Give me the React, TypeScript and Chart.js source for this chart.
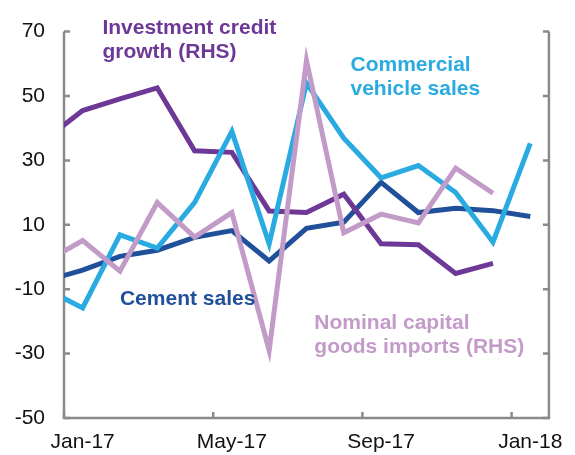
import React, { useEffect, useRef } from "react";
import { Chart, registerables } from "chart.js";

Chart.register(...registerables);

// Months: first point (Dec-16) sits just left of the plot and is clipped
const months = ["Dec-16", "Jan-17", "Feb-17", "Mar-17", "Apr-17", "May-17", "Jun-17", "Jul-17", "Aug-17", "Sep-17", "Oct-17", "Nov-17", "Dec-17", "Jan-18"];
const cementSales = [-7.4, -4.1, 0.2, 2.1, 6.1, 8.2, -1.2, 8.9, 10.8, 23.2, 13.8, 15.1, 14.4, 12.6];
const commercialVehicleSales = [-9.9, -15.8, 6.9, 2.8, 16.9, 39, 4.1, 54, 36.9, 24.6, 28.4, 20, 4.6, 35.3];
const capitalGoodsImports = [-1.4, 5.1, -4.4, 16.9, 6.2, 13.8, -29, 61, 7.5, 13.3, 10.6, 27.6, 19.8, null];
const investmentCredit = [36.5, 45.5, 49.1, 52.5, 33, 32.5, 14.3, 13.8, 19.5, 4.1, 3.8, -5.1, -2, null];

const xTickLabels = ["Jan-17", "May-17", "Sep-17", "Jan-18"];
const xTickMonthIdx = [1, 5, 9, 13];
const yTicks = [-50, -30, -10, 10, 30, 50, 70];

const C_CEMENT = "#21509B";
const C_COMM = "#29ABE2";
const C_IMPORTS = "#C39BC8";
const C_CREDIT = "#6E3896";
const AXIS_COLOR = "#8A8A8C";
const FONT = '"Liberation Sans", Arial, sans-serif';

const toPoints = (arr: (number | null)[]) =>
  arr.map((v, i) => ({ x: i - 0.5, y: v }));

const labels = [
  { lines: ["Investment credit", "growth (RHS)"], color: C_CREDIT, x: 1.03, y: 71 },
  { lines: ["Commercial", "vehicle sales"], color: C_COMM, x: 7.68, y: 59.6 },
  { lines: ["Cement sales"], color: C_CEMENT, x: 1.5, y: -13.2 },
  { lines: ["Nominal capital", "goods imports (RHS)"], color: C_IMPORTS, x: 6.71, y: -20.5 },
];

const axesPlugin = {
  id: "customAxes",
  beforeDatasetsDraw(chart: any) {
    const { ctx, chartArea, scales } = chart;
    const { left, right, top, bottom } = chartArea;
    const x = scales.x;
    const y = scales.y;
    ctx.save();
    ctx.strokeStyle = AXIS_COLOR;
    ctx.lineWidth = 2.5;
    ctx.lineCap = "butt";
    ctx.beginPath();
    ctx.moveTo(left, top);
    ctx.lineTo(left, bottom);
    ctx.lineTo(right, bottom);
    ctx.lineTo(right, top);
    ctx.stroke();
    ctx.beginPath();
    for (const v of yTicks) {
      const py = y.getPixelForValue(v);
      ctx.moveTo(left, py);
      ctx.lineTo(left + 6, py);
      ctx.moveTo(right, py);
      ctx.lineTo(right - 6, py);
    }
    for (const mi of xTickMonthIdx) {
      const px = x.getPixelForValue(mi - 1);
      ctx.moveTo(px, bottom);
      ctx.lineTo(px, bottom - 6);
    }
    ctx.stroke();
    ctx.restore();
  },
  afterDatasetsDraw(chart: any) {
    const { ctx, scales } = chart;
    ctx.save();
    ctx.font = `bold 21px ${FONT}`;
    ctx.textAlign = "left";
    ctx.textBaseline = "middle";
    for (const l of labels) {
      const px = scales.x.getPixelForValue(l.x);
      const py = scales.y.getPixelForValue(l.y);
      ctx.fillStyle = l.color;
      l.lines.forEach((t, i) => ctx.fillText(t, px, py + i * 24));
    }
    ctx.restore();
  },
};

export default function App() {
  const ref = useRef<HTMLCanvasElement | null>(null);
  useEffect(() => {
    if (!ref.current) return;
    const ds = (data: (number | null)[], color: string, order: number) => ({
      data: toPoints(data),
      borderColor: color,
      backgroundColor: color,
      borderWidth: 5,
      pointRadius: 0,
      tension: 0,
      fill: false,
      clip: 0,
      order,
      borderJoinStyle: "miter" as const,
    });
    const chart = new Chart(ref.current, {
      type: "line",
      data: {
        datasets: [
          ds(cementSales, C_CEMENT, 4),
          ds(investmentCredit, C_CREDIT, 3),
          ds(commercialVehicleSales, C_COMM, 2),
          ds(capitalGoodsImports, C_IMPORTS, 1),
        ],
      },
      options: {
        responsive: false,
        animation: false,
        devicePixelRatio: 1,
        layout: { padding: { top: 27, right: 16, left: 0, bottom: 0 } },
        plugins: { legend: { display: false }, tooltip: { enabled: false } },
        scales: {
          x: {
            type: "linear",
            min: 0,
            max: 13,
            grid: { display: false, drawTicks: false },
            border: { display: false },
            afterBuildTicks: (scale: any) => {
              scale.ticks = xTickMonthIdx.map((mi) => ({ value: mi - 0.5 }));
            },
            afterFit: (scale: any) => {
              scale.height = 37;
            },
            ticks: {
              autoSkip: false,
              maxRotation: 0,
              padding: 12,
              color: "#111",
              font: { family: FONT, size: 21 },
              callback: (v: any) => {
                const idx = xTickMonthIdx.findIndex((mi) => Math.abs(mi - 0.5 - v) < 1e-6);
                return idx >= 0 ? xTickLabels[idx] : "";
              },
            },
          },
          y: {
            min: -50,
            max: 70,
            grid: { display: false, drawTicks: false },
            border: { display: false },
            afterBuildTicks: (scale: any) => {
              scale.ticks = yTicks.map((v) => ({ value: v }));
            },
            afterFit: (scale: any) => {
              scale.width = 64;
            },
            ticks: {
              padding: 19,
              color: "#111",
              font: { family: FONT, size: 21 },
            },
          },
        },
      },
      plugins: [axesPlugin],
    });
    return () => chart.destroy();
  }, []);
  return (
    <div style={{ position: "absolute", left: 0, top: 0, width: 575, height: 455, background: "#fff" }}>
      <canvas ref={ref} width={575} height={455} />
    </div>
  );
}
